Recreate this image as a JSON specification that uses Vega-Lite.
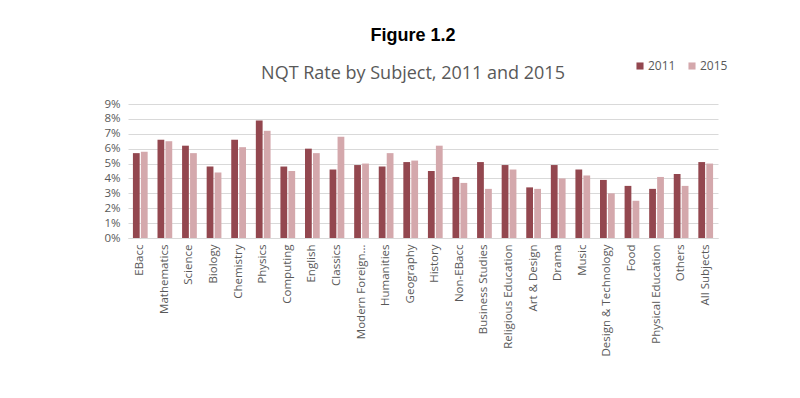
{
  "$schema": "https://vega.github.io/schema/vega-lite/v6.json",
  "width": 590,
  "height": 134,
  "autosize": {"type": "none"},
  "padding": {"left": 128, "top": 104, "right": 82, "bottom": 160},
  "background": "white",
  "title": {
    "text": "Figure 1.2",
    "subtitle": "NQT Rate by Subject, 2011 and 2015",
    "anchor": "middle",
    "dx": -10,
    "offset": -23,
    "font": "Liberation Sans",
    "fontSize": 18,
    "fontWeight": "bold",
    "color": "#000000",
    "subtitleFont": "Open Sans",
    "subtitleFontSize": 18,
    "subtitleColor": "#595959",
    "subtitlePadding": 20
  },
  "data": {
    "values": [
      {"Subject": "EBacc", "Year": "2011", "Rate": 0.057},
      {"Subject": "EBacc", "Year": "2015", "Rate": 0.058},
      {"Subject": "Mathematics", "Year": "2011", "Rate": 0.066},
      {"Subject": "Mathematics", "Year": "2015", "Rate": 0.065},
      {"Subject": "Science", "Year": "2011", "Rate": 0.062},
      {"Subject": "Science", "Year": "2015", "Rate": 0.057},
      {"Subject": "Biology", "Year": "2011", "Rate": 0.048},
      {"Subject": "Biology", "Year": "2015", "Rate": 0.044},
      {"Subject": "Chemistry", "Year": "2011", "Rate": 0.066},
      {"Subject": "Chemistry", "Year": "2015", "Rate": 0.061},
      {"Subject": "Physics", "Year": "2011", "Rate": 0.079},
      {"Subject": "Physics", "Year": "2015", "Rate": 0.072},
      {"Subject": "Computing", "Year": "2011", "Rate": 0.048},
      {"Subject": "Computing", "Year": "2015", "Rate": 0.045},
      {"Subject": "English", "Year": "2011", "Rate": 0.060},
      {"Subject": "English", "Year": "2015", "Rate": 0.057},
      {"Subject": "Classics", "Year": "2011", "Rate": 0.046},
      {"Subject": "Classics", "Year": "2015", "Rate": 0.068},
      {"Subject": "Modern Foreign Languages", "Year": "2011", "Rate": 0.049},
      {"Subject": "Modern Foreign Languages", "Year": "2015", "Rate": 0.050},
      {"Subject": "Humanities", "Year": "2011", "Rate": 0.048},
      {"Subject": "Humanities", "Year": "2015", "Rate": 0.057},
      {"Subject": "Geography", "Year": "2011", "Rate": 0.051},
      {"Subject": "Geography", "Year": "2015", "Rate": 0.052},
      {"Subject": "History", "Year": "2011", "Rate": 0.045},
      {"Subject": "History", "Year": "2015", "Rate": 0.062},
      {"Subject": "Non-EBacc", "Year": "2011", "Rate": 0.041},
      {"Subject": "Non-EBacc", "Year": "2015", "Rate": 0.037},
      {"Subject": "Business Studies", "Year": "2011", "Rate": 0.051},
      {"Subject": "Business Studies", "Year": "2015", "Rate": 0.033},
      {"Subject": "Religious Education", "Year": "2011", "Rate": 0.049},
      {"Subject": "Religious Education", "Year": "2015", "Rate": 0.046},
      {"Subject": "Art & Design", "Year": "2011", "Rate": 0.034},
      {"Subject": "Art & Design", "Year": "2015", "Rate": 0.033},
      {"Subject": "Drama", "Year": "2011", "Rate": 0.049},
      {"Subject": "Drama", "Year": "2015", "Rate": 0.040},
      {"Subject": "Music", "Year": "2011", "Rate": 0.046},
      {"Subject": "Music", "Year": "2015", "Rate": 0.042},
      {"Subject": "Design & Technology", "Year": "2011", "Rate": 0.039},
      {"Subject": "Design & Technology", "Year": "2015", "Rate": 0.030},
      {"Subject": "Food", "Year": "2011", "Rate": 0.035},
      {"Subject": "Food", "Year": "2015", "Rate": 0.025},
      {"Subject": "Physical Education", "Year": "2011", "Rate": 0.033},
      {"Subject": "Physical Education", "Year": "2015", "Rate": 0.041},
      {"Subject": "Others", "Year": "2011", "Rate": 0.043},
      {"Subject": "Others", "Year": "2015", "Rate": 0.035},
      {"Subject": "All Subjects", "Year": "2011", "Rate": 0.051},
      {"Subject": "All Subjects", "Year": "2015", "Rate": 0.050}
    ]
  },
  "mark": {"type": "bar"},
  "encoding": {
    "x": {
      "field": "Subject",
      "type": "nominal",
      "sort": null,
      "scale": {"paddingInner": 0.4, "paddingOuter": 0.2},
      "axis": {
        "title": null,
        "labelAngle": -90,
        "labelFont": "Open Sans",
        "labelFontSize": 11.5,
        "labelColor": "#595959",
        "labelLimit": 0,
        "labelExpr": "datum.label == 'Modern Foreign Languages' ? 'Modern Foreign…' : datum.label",
        "labelPadding": 6,
        "ticks": false,
        "domain": true,
        "domainColor": "#d9d9d9"
      }
    },
    "xOffset": {"field": "Year", "type": "nominal", "scale": {"paddingInner": 0.15}},
    "y": {
      "field": "Rate",
      "type": "quantitative",
      "scale": {"domain": [0, 0.09]},
      "axis": {
        "title": null,
        "format": ".0%",
        "values": [0, 0.01, 0.02, 0.03, 0.04, 0.05, 0.06, 0.07, 0.08, 0.09],
        "labelFont": "Open Sans",
        "labelFontSize": 11.5,
        "labelColor": "#595959",
        "labelPadding": 8,
        "ticks": false,
        "domain": false,
        "gridColor": "#d9d9d9",
        "gridWidth": 1
      }
    },
    "color": {
      "field": "Year",
      "type": "nominal",
      "scale": {"domain": ["2011", "2015"], "range": ["#93474f", "#d4a8ac"]},
      "legend": {
        "title": null,
        "orient": "none",
        "direction": "horizontal",
        "legendX": 506,
        "legendY": -44,
        "symbolType": "square",
        "symbolSize": 50,
        "symbolStrokeWidth": 0,
        "labelFont": "Open Sans",
        "labelFontSize": 12,
        "labelColor": "#595959",
        "columnPadding": 10,
        "labelOffset": 2
      }
    }
  },
  "config": {"view": {"stroke": null}}
}
